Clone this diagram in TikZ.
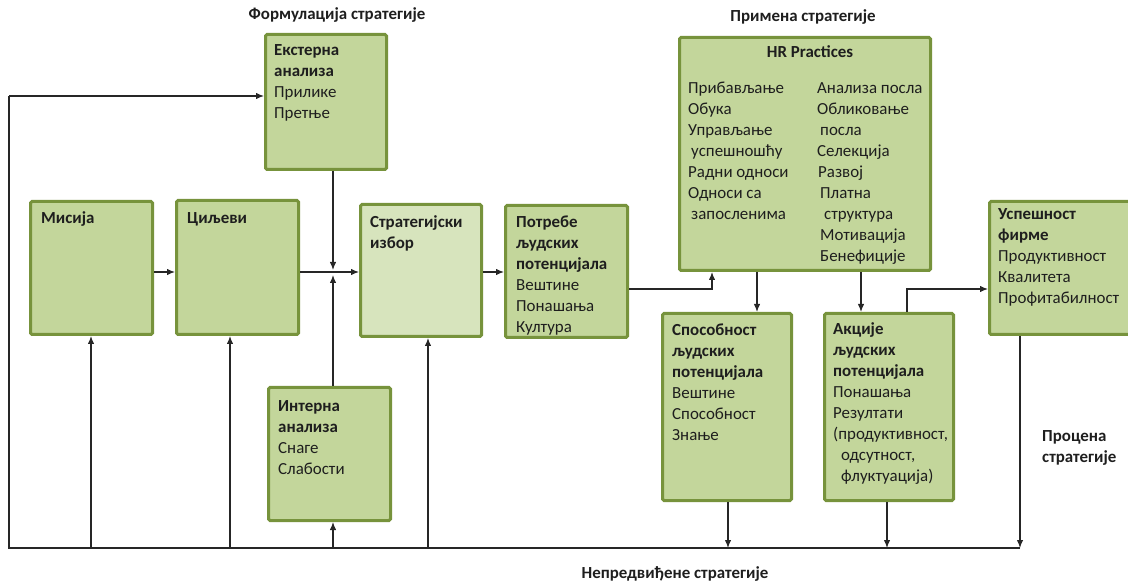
\documentclass[tikz,border=0pt]{standalone}
\usepackage{fontspec}
\setmainfont{Carlito}
\usetikzlibrary{arrows.meta}
\definecolor{boxfill}{HTML}{C3D69B}
\definecolor{boxlight}{HTML}{D7E4BD}
\definecolor{boxline}{HTML}{77933C}
\definecolor{ink}{HTML}{1E1E1E}
\tikzset{
  box/.style={draw=boxline, line width=3pt, fill=boxfill, rounded corners=1.5pt, inner sep=0pt},
  txt/.style={anchor=north west, inner sep=0pt, align=left, text=ink, font=\fontsize{16.9}{21}\selectfont},
  lbl/.style={anchor=base, inner sep=0pt, text=ink, font=\fontsize{16.9}{21}\selectfont\bfseries},
  conn/.style={line width=1.2pt, draw=black!85},
  arr/.style={conn, -{Latex[length=8pt,width=6.5pt]}},
}
% strut that fixes the height of a block's first line
\newcommand\fl{\rule{0pt}{16pt}}
\newcommand\ind[1]{\hspace*{#1pt}}

\begin{document}
\begin{tikzpicture}[x=1pt,y=-1pt]
\useasboundingbox (0,0) rectangle (1128,585);
\clip (0,0) rectangle (1128,585);

% ---- boxes ----
\node[box, minimum width=121pt, minimum height=135pt] (ext) at (326,102) {};
\node[box, minimum width=122pt, minimum height=133pt] (mis) at (91.5,268) {};
\node[box, minimum width=122pt, minimum height=134pt] (cil) at (237.5,267.5) {};
\node[box, fill=boxlight, minimum width=121pt, minimum height=132pt] (str) at (421,270.5) {};
\node[box, minimum width=122pt, minimum height=133pt] (int) at (329.5,454) {};
\node[box, minimum width=122pt, minimum height=132pt] (pot) at (566.5,271.5) {};
\node[box, minimum width=251pt, minimum height=233pt] (hr) at (805,154) {};
\node[box, minimum width=129pt, minimum height=187pt] (spo) at (727,407) {};
\node[box, minimum width=129pt, minimum height=187pt] (akc) at (889,407) {};
\node[box, minimum width=149pt, minimum height=133pt] (usp) at (1064,268) {};

% ---- box texts ----
\node[txt] (text) at (274,39) {\fl\textbf{Екстерна}\\\textbf{анализа}\\Прилике\\Претње};
\node[txt] (tmis) at (41,207) {\fl\textbf{Мисија}};
\node[txt] (tcil) at (187,207) {\fl\textbf{Циљеви}};
\node[txt] (tstr) at (370,211) {\fl\textbf{Стратегијски}\\\textbf{избор}};
\node[txt] (tint) at (278,395) {\fl\textbf{Интерна}\\\textbf{анализа}\\Снаге\\Слабости};
\node[txt] (tpot) at (516,211) {\fl\textbf{Потребе}\\\textbf{људских}\\\textbf{потенцијала}\\Вештине\\Понашања\\Култура};
\node[lbl] (thr) at (810,58) {HR Practices};
\node[txt] (thrl) at (688,77) {\fl Прибављање\\Обука\\Управљање\\\ind{3}успешношћу\\Радни односи\\Односи са\\\ind{3}запосленима};
\node[txt] (thrr) at (817,77) {\fl Анализа посла\\Обликовање\\\ind{3}посла\\Селекција\\\ind{1}Развој\\\ind{3}Платна\\\ind{7}структура\\\ind{3}Мотивација\\\ind{3}Бенефиције};
\node[txt] (tspo) at (672,319) {\fl\textbf{Способност}\\\textbf{људских}\\\textbf{потенцијала}\\Вештине\\Способност\\Знање};
\node[txt] (takc) at (833,318) {\fl\textbf{Акције}\\\textbf{људских}\\\textbf{потенцијала}\\Понашања\\Резултати\\(продуктивност,\\\ind{8}одсутност,\\\ind{8}флуктуација)};
\node[txt] (tusp) at (998,203) {\fl\textbf{Успешност}\\\textbf{фирме}\\Продуктивност\\Квалитета\\Профитабилност};

% ---- stage labels ----
\node[lbl] (lform) at (337,20) {Формулација стратегије};
\node[lbl] (lprim) at (803,22) {Примена стратегије};
\node[lbl] (lnep) at (675,578) {Непредвиђене стратегије};
\node[txt, font=\fontsize{16.9}{21}\selectfont\bfseries] (lproc) at (1042,425) {\fl Процена\\стратегије};

% ---- routing points ----
\coordinate (jn) at (333,272);
\coordinate (tl) at (9,96);
\coordinate (bl) at (9,548);
\coordinate (br) at (1020,548);
\coordinate (u1) at (91,548);
\coordinate (u2) at (230,548);
\coordinate (u3) at (333,548);
\coordinate (u4) at (428,548);
\coordinate (k1) at (712,289);
\coordinate (k2) at (907,289);
\coordinate (d1) at (757,0);
\coordinate (d2) at (861,0);
\coordinate (e1) at (728,548);
\coordinate (e2) at (887,548);

% ---- strategy formulation ----
\draw[arr] (mis.east |- jn) -- (cil.west |- jn);
\draw[arr] (cil.east |- jn) -- (str.west |- jn);
\draw[arr] (ext.south -| jn) -- ([yshift=2pt]jn);
\draw[arr] (int.north -| jn) -- ([yshift=-3pt]jn);
\draw[arr] (str.east |- jn) -- (pot.west |- jn);

% ---- strategy implementation ----
\draw[arr] (pot.east |- k1) -- (k1) -- (k1 |- hr.south);
\draw[arr] (hr.south -| d1) -- (spo.north -| d1);
\draw[arr] (hr.south -| d2) -- (akc.north -| d2);
\draw[arr] (akc.north -| k2) -- (k2) -- (usp.west |- k2);

% ---- feedback loop ----
\draw[arr] (spo.south -| e1) -- (e1);
\draw[arr] (akc.south -| e2) -- (e2);
\draw[arr] (usp.south -| br) -- (br);
\draw[conn] (br) -- (bl) -- (tl);
\draw[arr] (tl) -- (ext.west |- tl);
\draw[arr] (u1) -- (u1 |- mis.south);
\draw[arr] (u2) -- (u2 |- cil.south);
\draw[arr] (u3) -- (u3 |- int.south);
\draw[arr] (u4) -- (u4 |- str.south);
\end{tikzpicture}
\end{document}
